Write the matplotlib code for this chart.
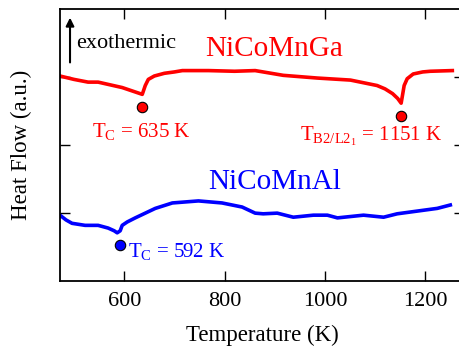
#!/usr/bin/env python
"""
DSC heat flow curves of NiCoMnGa and NiCoMnAl (re-drawn from a figure)
"""

import matplotlib
matplotlib.use("Agg")
import matplotlib.pyplot as plt

# NiCoMnGa curve (temperature in K, heat flow in a.u.)
temp_ga = [472, 500, 528, 548, 572, 596, 616, 636, 642, 648, 660, 680, 700, 716,
           768, 820, 861, 917, 985, 1051, 1104, 1120, 1135, 1145, 1152,
           1155, 1158, 1164, 1176, 1195, 1210, 1254]
flow_ga = [3.02, 2.97, 2.93, 2.93, 2.89, 2.85, 2.80, 2.75, 2.88, 2.97, 3.02, 3.06, 3.08, 3.10,
           3.10, 3.09, 3.10, 3.03, 2.99, 2.96, 2.88, 2.83, 2.76, 2.69, 2.62,
           2.75, 2.88, 2.98, 3.05, 3.08, 3.09, 3.10]

# NiCoMnAl curve
temp_al = [472, 484, 496, 522, 548, 568, 580, 586, 592, 596, 606, 622, 642, 662, 696,
           748, 795, 835, 861, 877, 905, 937, 977, 1005, 1025, 1077, 1117,
           1144, 1184, 1224, 1250]
flow_al = [0.97, 0.90, 0.85, 0.82, 0.82, 0.78, 0.74, 0.71, 0.74, 0.82, 0.87, 0.93, 1.00, 1.07, 1.15,
           1.18, 1.15, 1.09, 1.00, 0.99, 1.00, 0.94, 0.97, 0.97, 0.93, 0.97, 0.94,
           0.99, 1.03, 1.07, 1.12]

# transition markers
trans_ga = [636, 1152]
mark_ga = [2.56, 2.43]
trans_al = [592]
mark_al = [0.53]

xticks = [600, 800, 1000, 1200]
yticks = [1, 2, 3]

plt.rcParams['font.family'] = ['Liberation Serif', 'DejaVu Serif']
plt.rcParams['mathtext.fontset'] = 'custom'
plt.rcParams['mathtext.rm'] = 'Liberation Serif'
plt.rcParams['mathtext.it'] = 'Liberation Serif:italic'

fig = plt.figure(figsize=(4.6, 3.49), dpi=100)
ax = fig.add_axes([0.1304, 0.1948, 0.878, 0.778])

ax.plot(temp_ga, flow_ga, color='#ff0000', lw=2.6, solid_joinstyle='round')
ax.plot(temp_al, flow_al, color='#0000ff', lw=2.6, solid_joinstyle='round')
ax.plot(trans_ga, mark_ga, 'o', color='#ff0000', mec='k', mew=0.8, ms=7.5)
ax.plot(trans_al, mark_al, 'o', color='#0000ff', mec='k', mew=0.8, ms=7.5)

# labels
ax.text(899, 3.32, 'NiCoMnGa', color='#ff0000', fontsize=21, ha='center', va='baseline')
ax.text(899, 1.35, 'NiCoMnAl', color='#0000ff', fontsize=21, ha='center', va='baseline')
ax.text(536, 2.12, r'$\mathrm{T_C}$ = 635 K', color='#ff0000', fontsize=15, va='baseline')
ax.text(951, 2.07, r'$\mathrm{T_{B2/L2_1}}$ = 1151 K', color='#ff0000', fontsize=15, va='baseline')
ax.text(608, 0.35, r'$\mathrm{T_C}$ = 592 K', color='#0000ff', fontsize=15, va='baseline')
ax.text(504, 3.44, 'exothermic', color='k', fontsize=16, va='baseline')
ax.annotate('', xy=(492, 3.88), xytext=(492, 3.22),
            arrowprops=dict(arrowstyle='-|>', color='k', lw=1.5,
                            shrinkA=0, shrinkB=0, mutation_scale=12))

ax.set_xlim(472, 1277)
ax.set_ylim(0, 4)
ax.set_xticks(xticks)
ax.set_yticks(yticks)
ax.set_yticklabels([])
ax.tick_params(direction='in', top=True, right=True, length=7.5, width=1,
               labelsize=16, pad=8)
for s in ax.spines.values():
    s.set_linewidth(1.3)

ax.set_xlabel('Temperature (K)', fontsize=16.5, labelpad=10)
ax.set_ylabel('Heat Flow (a.u.)', fontsize=16.5, labelpad=12)

fig.savefig('out.png', dpi=100)
